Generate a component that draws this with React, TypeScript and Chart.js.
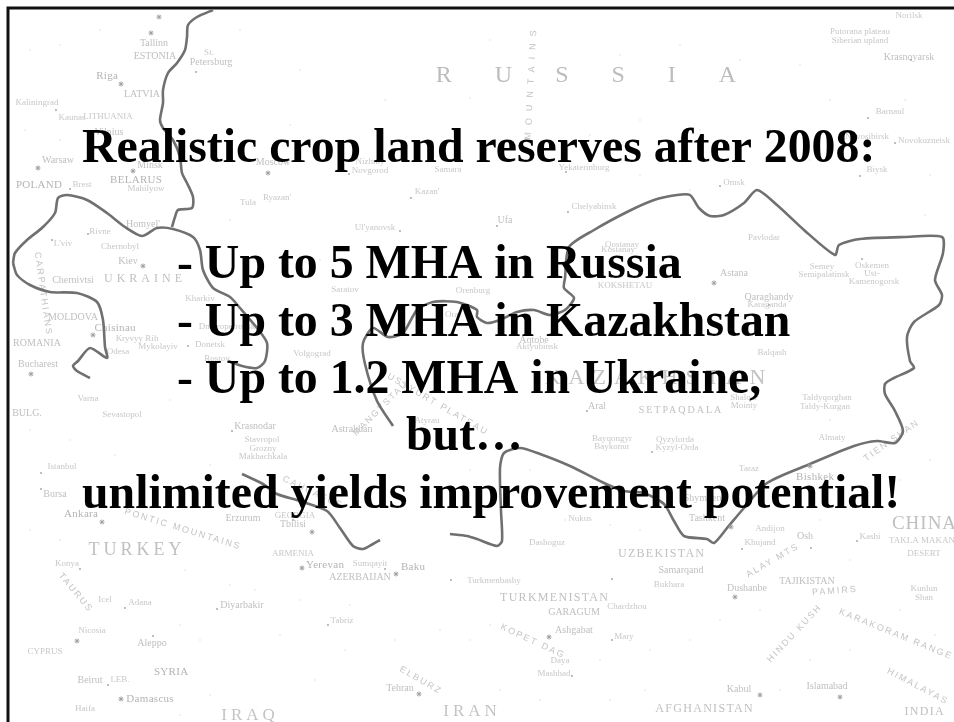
import React, { useEffect, useRef } from "react";
import { Chart, registerables } from "chart.js";

Chart.register(...registerables);

const WIDTH = 954;
const HEIGHT = 722;

type P = [number, number];

const frameLine: P[] = [[954, 8], [8, 8], [8, 722]];
const russiaWest: P[] = [[213, 10], [197, 17], [188, 25], [187, 37], [185, 50], [177, 63], [168, 73], [163, 90], [163, 103], [160, 120], [163, 128], [173, 140], [180, 157], [182, 173], [187, 183], [193, 197], [192, 208], [178, 210], [175, 217], [172, 227]];
const ukraineNorth: P[] = [[13, 263], [15, 253], [27, 240], [43, 227], [55, 213], [58, 198], [67, 195], [87, 200], [107, 213], [125, 227], [142, 236], [157, 228], [173, 229], [193, 237], [200, 250], [203, 270], [213, 288], [230, 297], [240, 308], [257, 328], [267, 343], [265, 361], [257, 368], [242, 366], [228, 361]];
const ukraineSouth: P[] = [[13, 263], [17, 275], [30, 285], [50, 292], [77, 293], [97, 302], [103, 320], [105, 347], [107, 358], [90, 348], [78, 361], [73, 366], [77, 371], [90, 378]];
const kazakhBorder: P[] = [[393, 426], [377, 401], [365, 364], [363, 343], [373, 328], [388, 337], [403, 333], [417, 310], [433, 302], [457, 302], [477, 310], [477, 317], [487, 323], [500, 320], [517, 312], [534, 310], [550, 315], [565, 310], [574, 298], [564, 288], [565, 278], [569, 247], [594, 230], [627, 212], [654, 200], [677, 195], [690, 195], [699, 208], [710, 216], [724, 215], [744, 203], [757, 190], [777, 205], [804, 230], [835, 255], [839, 245], [860, 239], [904, 237], [942, 237], [943, 253], [935, 280], [942, 295], [939, 305], [914, 322], [907, 337], [910, 361], [914, 368], [894, 378], [885, 384], [885, 394], [895, 411], [903, 431], [895, 443], [877, 441], [854, 446], [810, 464], [767, 483], [744, 508], [727, 528], [714, 543], [707, 539], [684, 536], [674, 521], [664, 504], [644, 493], [624, 491], [604, 483], [570, 466], [540, 454], [520, 448], [504, 453], [500, 468], [501, 511], [502, 541], [497, 546], [477, 539], [467, 536], [450, 534]];
const caucasusBorder: P[] = [[242, 474], [263, 484], [277, 494], [300, 501], [327, 511], [340, 528], [353, 546], [363, 549], [373, 544], [380, 540]];

const capitals: P[] = [[159, 17], [151, 33], [268, 173], [133, 171], [38, 168], [121, 84], [143, 266], [93, 335], [31, 374], [714, 283], [312, 532], [102, 522], [302, 568], [396, 574], [121, 699], [77, 641], [419, 694], [549, 637], [735, 597], [731, 527], [810, 466], [760, 695], [840, 697]];
const towns: P[] = [[56, 110], [70, 189], [88, 234], [52, 240], [196, 72], [349, 174], [411, 198], [400, 231], [911, 60], [868, 118], [895, 143], [860, 176], [720, 186], [566, 172], [568, 212], [497, 226], [769, 305], [862, 259], [232, 431], [41, 473], [41, 489], [80, 569], [125, 608], [217, 609], [328, 625], [153, 636], [108, 685], [587, 411], [652, 452], [811, 548], [742, 549], [857, 541], [612, 579], [612, 640], [572, 676], [385, 569], [451, 580], [188, 346], [293, 520]];
const stipple: P[] = [[30, 50], [60, 45], [100, 30], [240, 30], [300, 70], [290, 125], [330, 150], [385, 100], [470, 98], [490, 40], [620, 55], [680, 45], [740, 60], [800, 65], [830, 100], [770, 130], [700, 130], [640, 120], [590, 135], [25, 130], [60, 140], [120, 145], [230, 220], [320, 260], [410, 250], [470, 260], [640, 175], [690, 190], [810, 160], [905, 100], [930, 175], [925, 215], [30, 430], [70, 440], [115, 455], [170, 400], [210, 465], [30, 530], [60, 540], [185, 570], [230, 585], [255, 590], [300, 600], [350, 605], [395, 640], [440, 630], [470, 640], [180, 625], [200, 640], [280, 635], [345, 650], [315, 680], [210, 695], [180, 715], [490, 625], [520, 600], [600, 660], [650, 650], [690, 640], [720, 620], [760, 610], [810, 660], [780, 690], [850, 650], [900, 610], [935, 635], [645, 690], [610, 700], [500, 690], [540, 700], [820, 520], [850, 560], [900, 480], [930, 460], [830, 420], [610, 525], [565, 520], [640, 530], [530, 470], [470, 470]];

const mapNames = ["Tallinn", "ESTONIA", "St.", "Petersburg", "Riga", "LATVIA", "Kaliningrad", "LITHUANIA", "Kaunas", "Vilnius", "Warsaw", "Minsk", "Moscow", "Nizhniy", "Novgorod", "Samara", "BELARUS", "Mahilyow", "POLAND", "Brest", "Ryazan'", "Tula", "Kazan'", "Homyel'", "Ul'yanovsk", "Rivne", "L'viv", "Chernobyl", "Kiev", "Chernivtsi", "UKRAINE", "Saratov", "Kharkiv", "Orenburg", "MOLDOVA", "Chisinau", "Dnipropetrovsk", "ROMANIA", "Kryvyy Rih", "Mykolayiv", "Odesa", "Donetsk", "Volgograd", "Rostov", "Norilsk", "Putorana plateau", "Siberian upland", "Krasnoyarsk", "Barnaul", "Novosibirsk", "Novokuznetsk", "Biysk", "Yekaterinburg", "Omsk", "Chelyabinsk", "Ufa", "Qostanay", "Kostanay", "Pavlodar", "Astana", "KOKSHETAU", "Semey", "Semipalatinsk", "Oskemen", "Ust-", "Kamenogorsk", "Qaraghandy", "Karaganda", "Aqtobe", "Aktyubinsk", "Balqash", "Oral", "KAZAKHSTAN", "Aral", "SETPAQDALA", "Shalqar", "Mointy", "Taldyqorghan", "Taldy-Kurgan", "Bayqongyr", "Baykonur", "Qyzylorda", "Kyzyl-Orda", "Almaty", "Taraz", "Bishkek", "Shymkent", "Tashkent", "Nukus", "Dashoguz", "Andijon", "Osh", "Khujand", "Kashi", "CHINA", "TAKLA MAKAN", "DESERT", "UZBEKISTAN", "Samarqand", "Bukhara", "Dushanbe", "TAJIKISTAN", "TURKMENISTAN", "Turkmenbashy", "GARAGUM", "Chardzhou", "Ashgabat", "Mary", "Daya", "Mashhad", "Kabul", "Islamabad", "AFGHANISTAN", "INDIA", "IRAN", "IRAQ", "Bucharest", "Varna", "BULG.", "Sevastopol", "Krasnodar", "Astrakhan", "Stavropol", "Grozny", "Makhachkala", "Istanbul", "Bursa", "Ankara", "GEORGIA", "Tbilisi", "Erzurum", "TURKEY", "ARMENIA", "Yerevan", "Sumqayit", "Baku", "AZERBAIJAN", "Konya", "Adana", "Icel", "Diyarbakir", "Tabriz", "Nicosia", "Aleppo", "CYPRUS", "SYRIA", "Beirut", "LEB.", "Damascus", "Haifa", "Tehran", "Atyrau", "Kunlun", "Shan"];
const mapX = [154, 155, 209, 211, 107, 142, 37, 108, 72, 109, 58, 150, 273, 370, 370, 448, 136, 146, 39, 82, 277, 248, 427, 143, 375, 100, 63, 120, 128, 73, 143, 345, 200, 473, 73, 115, 227, 37, 137, 158, 118, 210, 312, 217, 909, 860, 860, 909, 890, 867, 924, 877, 584, 734, 594, 505, 622, 618, 764, 734, 625, 822, 824, 872, 872, 874, 769, 767, 534, 537, 772, 453, 655, 597, 680, 744, 744, 827, 825, 612, 612, 675, 677, 832, 749, 815, 704, 707, 580, 547, 770, 805, 760, 870, 924, 922, 924, 661, 681, 669, 747, 807, 554, 494, 574, 627, 574, 624, 560, 554, 739, 827, 704, 924, 470, 248, 38, 88, 27, 122, 255, 352, 262, 263, 263, 62, 55, 81, 295, 293, 243, 135, 293, 325, 370, 413, 360, 67, 140, 105, 242, 342, 92, 152, 45, 171, 90, 120, 150, 85, 400, 427, 924, 924];
const mapY = [43, 56, 53, 62, 76, 94, 103, 117, 118, 132, 160, 165, 162, 162, 171, 170, 180, 189, 185, 185, 198, 203, 192, 224, 228, 232, 244, 247, 261, 280, 279, 290, 299, 291, 317, 328, 327, 343, 339, 347, 352, 345, 354, 359, 16, 32, 41, 57, 112, 137, 141, 170, 168, 183, 207, 220, 245, 250, 238, 273, 286, 267, 275, 266, 274, 282, 297, 305, 340, 347, 353, 315, 378, 406, 410, 398, 406, 398, 407, 439, 447, 440, 448, 438, 469, 477, 498, 518, 519, 543, 529, 536, 543, 537, 524, 541, 554, 554, 570, 585, 588, 581, 598, 581, 612, 607, 630, 637, 661, 674, 689, 686, 709, 712, 712, 716, 364, 399, 413, 415, 426, 429, 440, 449, 457, 467, 494, 514, 516, 524, 518, 550, 554, 565, 564, 567, 577, 564, 603, 600, 605, 621, 631, 643, 652, 672, 680, 680, 699, 709, 688, 421, 589, 598];
const mapTier = [1, 1, 0, 1, 2, 1, 0, 0, 0, 1, 1, 1, 1, 0, 0, 0, 2, 0, 2, 0, 0, 0, 0, 1, 0, 0, 0, 0, 1, 1, 3, 0, 0, 0, 1, 2, 0, 1, 0, 0, 0, 0, 0, 0, 0, 0, 0, 1, 0, 0, 0, 0, 0, 0, 0, 1, 0, 0, 0, 1, 0, 0, 0, 0, 0, 0, 1, 0, 1, 0, 0, 0, 5, 1, 1, 0, 0, 0, 0, 0, 0, 0, 0, 0, 0, 2, 1, 1, 0, 0, 0, 1, 0, 0, 6, 0, 0, 3, 1, 0, 1, 1, 3, 0, 1, 0, 1, 0, 0, 0, 1, 1, 3, 3, 4, 4, 1, 0, 1, 0, 1, 1, 0, 0, 0, 0, 1, 2, 0, 1, 1, 7, 0, 2, 0, 2, 1, 0, 0, 0, 1, 0, 0, 1, 0, 2, 1, 0, 2, 0, 1, 0, 0, 0];

const slopedNames = ["CARPATHIANS", "MOUNTAINS", "CAUCASUS", "PONTIC MOUNTAINS", "TAURUS", "ELBURZ", "TIEN SHAN", "ALAY MTS", "PAMIRS", "HINDU KUSH", "KARAKORAM RANGE", "HIMALAYAS", "USTYURT PLATEAU", "MANGYSTAU", "KOPET DAG"];
const slopedX = [43, 531, 312, 182, 75, 420, 891, 772, 834, 794, 895, 917, 437, 380, 532];
const slopedY = [293, 85, 492, 529, 592, 680, 441, 561, 591, 634, 634, 686, 404, 409, 641];
const slopedAngle = [82, -87, 25, 17, 50, 30, -35, -30, -4, -47, 22, 28, 30, -45, 25];

const russiaLabel = "RUSSIA";
const russiaPos: P = [586, 76];

const headlineLines = ["Realistic crop land reserves after 2008:", "- Up to 5 MHA in Russia", "- Up to 3 MHA in Kazakhstan", "- Up to 1.2 MHA in Ukraine,", "but\u2026", "unlimited yields improvement potential!"];
const headlineX = [82, 177, 177, 177, 406, 82];
const headlineY = [162, 278, 336, 393, 450, 508];

const tierFonts = [
  { size: 9, spacing: 0, color: "#c8c8c8" },
  { size: 10, spacing: 0, color: "#c0c0c0" },
  { size: 11, spacing: 0.3, color: "#b4b4b4" },
  { size: 12, spacing: 1.3, color: "#c0c0c0" },
  { size: 17, spacing: 4, color: "#c4c4c4" },
  { size: 22, spacing: 8, color: "#c4c4c4" },
  { size: 19, spacing: 1, color: "#c0c0c0" },
  { size: 18, spacing: 4, color: "#c0c0c0" },
];

const toPts = (a: P[]) => a.map(([x, y]) => ({ x, y }));

function spacedText(ctx: CanvasRenderingContext2D, t: string, x: number, y: number, spacing: number) {
  (ctx as any).letterSpacing = `${spacing}px`;
  ctx.fillText(t, x + spacing / 2, y);
}

const mapTextPlugin = {
  id: "mapText",
  beforeDatasetsDraw(chart: any) {
    const { ctx, scales } = chart;
    const px = (v: number) => scales.x.getPixelForValue(v);
    const py = (v: number) => scales.y.getPixelForValue(v);
    ctx.save();
    ctx.textAlign = "center";
    ctx.textBaseline = "middle";
    (ctx as any).filter = "blur(0.35px)";
    mapNames.forEach((name, i) => {
      const f = tierFonts[mapTier[i]];
      ctx.font = `${f.size}px "Liberation Serif"`;
      ctx.fillStyle = f.color;
      const spacing = name === "UKRAINE" ? 4 : name === "SETPAQDALA" ? 2 : f.spacing;
      spacedText(ctx, name, px(mapX[i]), py(mapY[i]), spacing);
    });
    slopedNames.forEach((name, i) => {
      ctx.save();
      ctx.translate(px(slopedX[i]), py(slopedY[i]));
      ctx.rotate((slopedAngle[i] * Math.PI) / 180);
      ctx.font = `9px "Liberation Sans"`;
      ctx.fillStyle = "#c4c4c4";
      spacedText(ctx, name, 0, 0, name === "MOUNTAINS" ? 7 : 2);
      ctx.restore();
    });
    ctx.font = `24px "Liberation Serif"`;
    ctx.fillStyle = "#bcbcbc";
    spacedText(ctx, russiaLabel, px(russiaPos[0]), py(russiaPos[1]), 43);
    ctx.restore();
  },
};

const headlinePlugin = {
  id: "headline",
  afterDatasetsDraw(chart: any) {
    const { ctx, scales } = chart;
    ctx.save();
    ctx.font = `bold 47.8px "Liberation Serif"`;
    ctx.fillStyle = "#000000";
    ctx.textAlign = "left";
    ctx.textBaseline = "alphabetic";
    headlineLines.forEach((line, i) => {
      ctx.fillText(line, scales.x.getPixelForValue(headlineX[i]), scales.y.getPixelForValue(headlineY[i]));
    });
    ctx.restore();
  },
};

export default function App() {
  const ref = useRef<HTMLCanvasElement | null>(null);
  useEffect(() => {
    if (!ref.current) return;
    const border = (data: P[], width = 2.6, color = "#707070") => ({
      type: "line" as const,
      data: toPts(data),
      borderColor: color,
      borderWidth: width,
      pointRadius: 0,
      tension: 0.25,
      fill: false,
      clip: false as any,
    });
    const chart = new Chart(ref.current, {
      type: "scatter",
      data: {
        datasets: [
          { data: toPts(stipple), pointRadius: 0.7, backgroundColor: "#d4d4d4", borderWidth: 0 } as any,
          { data: toPts(towns), pointRadius: 0.9, backgroundColor: "#a0a0a0", borderWidth: 0 } as any,
          { data: toPts(capitals), pointStyle: "star", pointRadius: 2.5, borderColor: "#a0a0a0", borderWidth: 1, backgroundColor: "#a0a0a0" } as any,
          border(russiaWest),
          border(ukraineNorth),
          border(ukraineSouth),
          border(kazakhBorder),
          border(caucasusBorder),
          { ...border(frameLine, 3, "#111111"), tension: 0 },
        ],
      },
      options: {
        animation: false,
        responsive: false,
        layout: { padding: 0, autoPadding: false },
        plugins: { legend: { display: false }, tooltip: { enabled: false }, title: { display: false } },
        scales: {
          x: { type: "linear", min: 0, max: WIDTH, display: false },
          y: { type: "linear", min: 0, max: HEIGHT, reverse: true, display: false },
        },
      },
      plugins: [mapTextPlugin, headlinePlugin],
    } as any);
    return () => chart.destroy();
  }, []);
  return (
    <div style={{ position: "fixed", left: 0, top: 0, width: WIDTH, height: HEIGHT, background: "#fff" }}>
      <canvas ref={ref} width={WIDTH} height={HEIGHT} style={{ display: "block", width: WIDTH, height: HEIGHT }} />
    </div>
  );
}
